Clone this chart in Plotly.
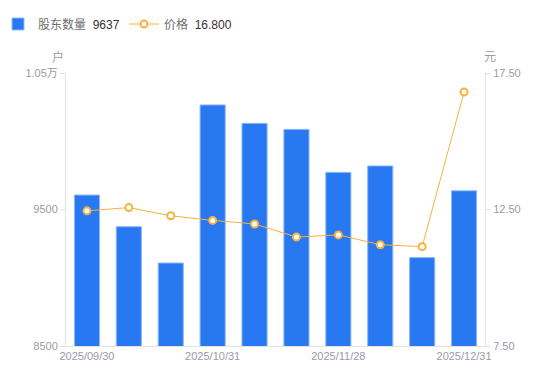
import plotly.graph_objects as go

dates = ["2025/09/30", "2025/10/10", "2025/10/20", "2025/10/31", "2025/11/10",
         "2025/11/20", "2025/11/28", "2025/12/10", "2025/12/20", "2025/12/31"]
holders = [9606, 9374, 9108, 10266, 10131, 10087, 9772, 9819, 9148, 9637]
prices = [12.45, 12.57, 12.27, 12.10, 11.97, 11.49, 11.57, 11.21, 11.14, 16.80]
tick_dates = ["2025/09/30", "2025/10/31", "2025/11/28", "2025/12/31"]
left_ticks = [8500, 9500, 10500]
left_labels = ["8500", "9500", "1.05万"]
right_ticks = [7.5, 12.5, 17.5]
right_labels = ["7.50", "12.50", "17.50"]

FONT = "Liberation Sans, Noto Sans CJK SC, sans-serif"
TICK_COLOR = "#9a9aa8"
AXIS_LINE = "#e3e3e3"
BLUE = "#2878f2"
ORANGE = "#f8b13d"

# page body has an 8px default margin; compensate in figure margins
OFF = 8
L, R, T, B = 66 - OFF, 65 + OFF, 73 - OFF, 35 + OFF
PW = 550 - L - R

fig = go.Figure()
fig.add_trace(go.Bar(
    x=dates, y=holders, yaxis="y",
    name="股东数量 <span style='color:#333333'> %d</span>" % holders[-1],
    marker=dict(color=BLUE, line=dict(color="#8fb8f7", width=1)),
    width=0.6, legend="legend",
))
fig.add_trace(go.Scatter(
    x=dates, y=prices, yaxis="y2", mode="lines+markers",
    name="价格 <span style='color:#333333'> %.3f</span>" % prices[-1],
    line=dict(color=ORANGE, width=1),
    marker=dict(symbol="circle", size=7, color="white", line=dict(color=ORANGE, width=2)),
    legend="legend2",
))

leg_common = dict(orientation="h", xref="paper", yref="container",
                  y=1 - (24 - OFF) / 381, xanchor="left", yanchor="middle",
                  font=dict(size=12, color="#6e6e6e"), itemwidth=30,
                  bgcolor="rgba(0,0,0,0)")

fig.update_layout(
    width=550, height=381,
    margin=dict(l=L, r=R, t=T, b=B, autoexpand=False),
    paper_bgcolor="white", plot_bgcolor="white",
    font=dict(family=FONT, size=12, color="#666666"),
    showlegend=True,
    legend=dict(x=(-10 - L) / PW, **leg_common),
    legend2=dict(x=(116 - L) / PW, **leg_common),
    bargap=0.4,
    xaxis=dict(type="category", tickmode="array", tickvals=tick_dates, ticktext=tick_dates,
               showline=True, linecolor=AXIS_LINE, linewidth=1, ticks="",
               showgrid=False, tickfont=dict(size=11, color=TICK_COLOR),
               range=[-0.5, 9.5], fixedrange=True),
    yaxis=dict(range=[8500, 10500], tickmode="array", tickvals=left_ticks, ticktext=left_labels,
               showline=True, linecolor=AXIS_LINE, linewidth=1, ticks="outside",
               ticklen=5, tickcolor=AXIS_LINE, showgrid=False, zeroline=False,
               tickfont=dict(size=11, color=TICK_COLOR)),
    yaxis2=dict(range=[7.5, 17.5], overlaying="y", side="right", tickmode="array",
                tickvals=right_ticks, ticktext=right_labels,
                showline=True, linecolor=AXIS_LINE, linewidth=1, ticks="outside",
                ticklen=5, tickcolor=AXIS_LINE, showgrid=False, zeroline=False,
                tickfont=dict(size=11, color=TICK_COLOR)),
    annotations=[
        dict(text="户", xref="paper", yref="paper", x=0.0, xshift=-8, y=1.0, yshift=16,
             xanchor="center", yanchor="middle", showarrow=False,
             font=dict(size=12, color=TICK_COLOR)),
        dict(text="元", xref="paper", yref="paper", x=1.0, xshift=5, y=1.0, yshift=16,
             xanchor="center", yanchor="middle", showarrow=False,
             font=dict(size=12, color=TICK_COLOR)),
    ],
)

fig.write_html("out.html")
